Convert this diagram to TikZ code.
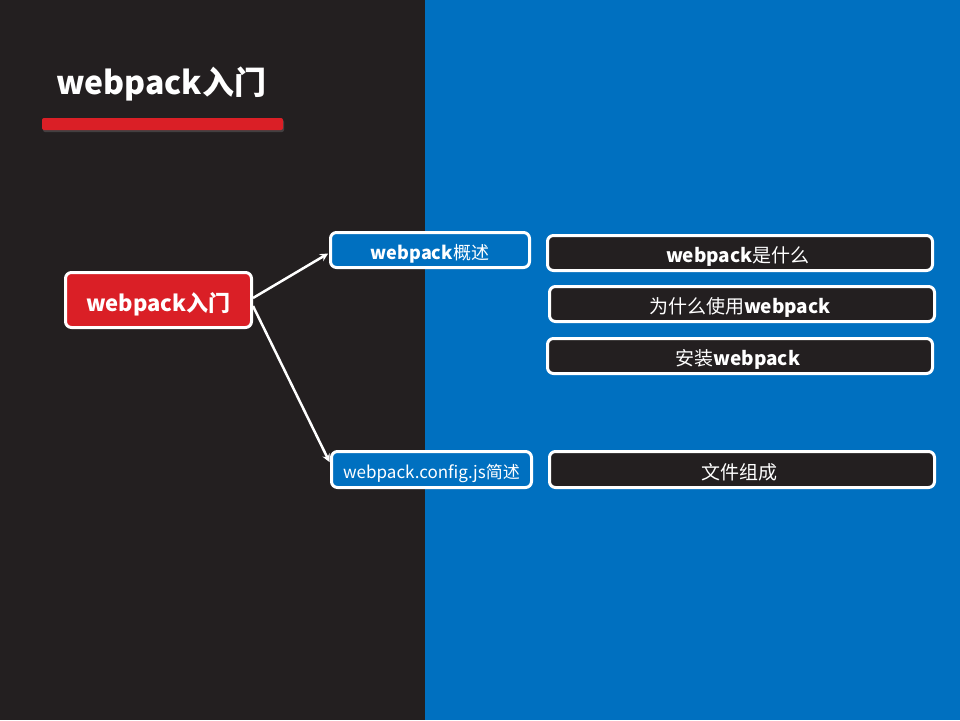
\documentclass[tikz,border=0pt]{standalone}
\usepackage{fontspec}
\setmainfont{Noto Sans CJK SC}
\usetikzlibrary{calc, shapes, arrows, shadows}
\definecolor{darkbg}{HTML}{231F20}
\definecolor{bluebg}{HTML}{0070C0}
\definecolor{redbox}{HTML}{DA1F26}
\begin{document}
\begin{tikzpicture}[x=1pt,y=-1pt,
	box/.style={draw=white, line width=3pt, rounded corners=6pt, inner sep=0pt, text=white, align=center, text height=19pt, text depth=0pt},
	link/.style={draw=white, line width=2.5pt, -stealth, shorten >=1pt}]
				\newcommand{\myfonttitle}[1]{
					\fontsize{32}{36}\selectfont{#1}
				}\newcommand{\myfontbox}[1]{
					\fontsize{19}{22}\selectfont{#1}
				}%Background
				\coordinate (bgtl) at (0,0);
				\coordinate (bgmid) at (425,720);
				\coordinate (bgmidtop) at (425,0);
				\coordinate (bgbr) at (960,720);
				\useasboundingbox (bgtl) rectangle (bgbr);
				\fill [darkbg] (bgtl) rectangle (bgmid);
				\fill [bluebg] (bgmidtop) rectangle (bgbr);
				%Title and red bar
				\node [anchor=west, text=white, inner sep=0pt] (title) at (56,84) {\myfonttitle{\bfseries webpack入门}};
				\fill [redbox, rounded corners=2pt, drop shadow={shadow xshift=1pt, shadow yshift=-2pt, opacity=0.35}] (42,118) rectangle (283,130);
				%Root node
				\node [box, fill=redbox, minimum width=186pt, minimum height=55pt, text height=22pt] (root) at (158.5,300) {\fontsize{22}{24}\selectfont\bfseries webpack入门};
				%Second level
				\node [box, fill=bluebg, minimum width=199pt, minimum height=35pt, text height=18pt] (intro) at (430,250) {\fontsize{18}{20}\selectfont\textbf{webpack}概述};
				\node [box, fill=bluebg, minimum width=200pt, minimum height=36pt, text height=17pt] (config) at (431.5,469.5) {\fontsize{17}{20}\selectfont webpack.config.js简述};
				%Third level
				\node [box, fill=darkbg, minimum width=385pt, minimum height=35pt] (what) at (740,253) {\myfontbox{\textbf{webpack}是什么}};
				\node [box, fill=darkbg, minimum width=385pt, minimum height=35pt] (why) at (742,304) {\myfontbox{为什么使用\textbf{webpack}}};
				\node [box, fill=darkbg, minimum width=385pt, minimum height=35pt] (install) at (740,356) {\myfontbox{安装\textbf{webpack}}};
				\node [box, fill=darkbg, minimum width=385pt, minimum height=36pt] (files) at (742,469.5) {\myfontbox{文件组成}};
				%Connectors
				\draw [link] ([yshift=2pt]root.east) -- ([yshift=-3pt]intro.west);
				\draw [link] ([yshift=-6pt]root.east) -- ([yshift=6.5pt]config.west);
				\end{tikzpicture}
\end{document}
